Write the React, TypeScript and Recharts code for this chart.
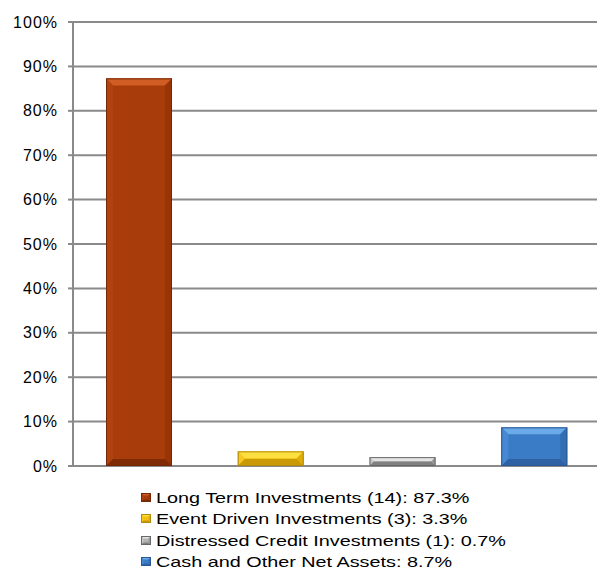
import React from 'react';
import { BarChart, Bar, XAxis, YAxis, CartesianGrid, Legend } from 'recharts';

// categories and bar heights
const CATEGORIES = ['Long Term Investments', 'Event Driven Investments', 'Distressed Credit Investments', 'Cash and Other Net Assets'];
const VALUES = [87.3, 3.3, 2.0, 8.7];
const LEGEND_LABELS = [
  'Long Term Investments (14): 87.3%',
  'Event Driven Investments (3): 3.3%',
  'Distressed Credit Investments (1): 0.7%',
  'Cash and Other Net Assets: 8.7%',
];
const Y_TICKS = [0, 10, 20, 30, 40, 50, 60, 70, 80, 90, 100];

const PALETTE = [
  { base: '#a83c0a', top: '#d25d24', left: '#b0420f', right: '#973507', bottom: '#7f2c06', edge: '#742805' },
  { base: '#f2c010', top: '#ffe040', left: '#f6c820', right: '#e0ad08', bottom: '#c99a05', edge: '#b38a10' },
  { base: '#b4b4b4', top: '#e4e4e4', left: '#c4c4c4', right: '#9a9a9a', bottom: '#808080', edge: '#686868' },
  { base: '#3b7cc6', top: '#6aaae8', left: '#4788d2', right: '#336db2', bottom: '#2f62a4', edge: '#2a5894' },
];

const FONT = '"Liberation Sans", Arial, sans-serif';

const data = CATEGORIES.map((name, i) => ({ name, value: VALUES[i], label: LEGEND_LABELS[i] }));

const bevel = (x: number, y: number, w: number, h: number, c: typeof PALETTE[0], size: number) => {
  const b = Math.min(size, h / 2, w / 2);
  const x2 = x + w;
  const y2 = y + h;
  return (
    <g>
      <rect x={x} y={y} width={w} height={h} fill={c.base} />
      <polygon points={`${x},${y} ${x2},${y} ${x2 - b},${y + b} ${x + b},${y + b}`} fill={c.top} />
      <polygon points={`${x},${y} ${x + b},${y + b} ${x + b},${y2 - b} ${x},${y2}`} fill={c.left} />
      <polygon points={`${x2},${y} ${x2},${y2} ${x2 - b},${y2 - b} ${x2 - b},${y + b}`} fill={c.right} />
      <polygon points={`${x},${y2} ${x + b},${y2 - b} ${x2 - b},${y2 - b} ${x2},${y2}`} fill={c.bottom} />
      <rect x={x + 0.5} y={y + 0.5} width={w - 1} height={h - 1} fill="none" stroke={c.edge} strokeWidth={1} />
    </g>
  );
};

const BevelBar = (props: any) => {
  const { x, y, width, height, index } = props;
  if (!height || height <= 0) return null;
  return bevel(x, y, width, height, PALETTE[index % PALETTE.length], 7);
};

const LegendBox = () => (
  <div style={{ height: 116, paddingTop: 21, paddingLeft: 141, boxSizing: 'border-box', fontFamily: FONT, fontSize: 15, color: '#000' }}>
    {data.map((d, i) => (
      <div key={d.name} style={{ height: 21.3, lineHeight: '21.3px', display: 'flex', alignItems: 'center', whiteSpace: 'nowrap' }}>
        <svg width={10} height={9} style={{ flex: 'none' }}>
          {bevel(0, 0, 10, 9, PALETTE[i], 2.5)}
        </svg>
        <span style={{ display: 'inline-block', marginLeft: 5, transform: 'scaleX(1.32)', transformOrigin: 'left center' }}>{d.label}</span>
      </div>
    ))}
  </div>
);

const App: React.FC = () => {
  return (
    <div style={{ position: 'absolute', left: 0, top: 0, width: 597, height: 582, overflow: 'hidden', background: '#fff' }}>
      <BarChart width={600} height={582} data={data} margin={{ top: 22, right: 0, left: 0, bottom: 0 }}>
        <CartesianGrid vertical={false} stroke="#8a8a8a" strokeWidth={2} />
        <XAxis dataKey="name" tick={false} tickLine={false} height={0} axisLine={{ stroke: '#a8a8a8', strokeWidth: 2 }} />
        <YAxis
          width={73}
          domain={[0, 100]}
          ticks={Y_TICKS}
          interval={0}
          tickFormatter={(v: number) => `${v}%`}
          tickSize={5}
          tickMargin={10}
          tickLine={{ stroke: '#8a8a8a', strokeWidth: 2 }}
          axisLine={{ stroke: '#8a8a8a', strokeWidth: 2 }}
          tick={{ fill: '#000', fontSize: 16, fontFamily: FONT, letterSpacing: 1 }}
        />
        <Legend verticalAlign="bottom" align="left" wrapperStyle={{ left: 0, width: 600 }} content={() => <LegendBox />} />
        <Bar dataKey="value" barSize={66} shape={BevelBar} isAnimationActive={false} />
      </BarChart>
    </div>
  );
};

export default App;
